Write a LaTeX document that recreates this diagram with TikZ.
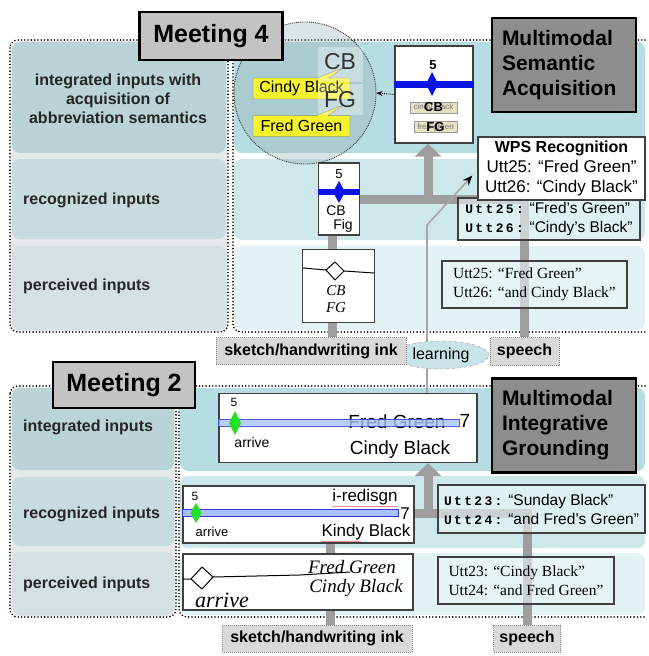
\documentclass[tikz,border=0pt]{standalone}
\usepackage{fontspec}
\setmainfont{Liberation Sans}
\newfontfamily\timesfont{Liberation Serif}
\newfontfamily\courfont[LetterSpace=18]{Liberation Mono}
\usetikzlibrary{shapes,shapes.callouts,arrows.meta,positioning,calc}

\definecolor{rowA}{HTML}{B5DDE2}
\definecolor{rowB}{HTML}{CCE8EB}
\definecolor{rowC}{HTML}{E3F3F5}
\definecolor{colA}{HTML}{BAD3D6}
\definecolor{colB}{HTML}{C8DBDE}
\definecolor{colC}{HTML}{D5E0E2}
\definecolor{colGap}{HTML}{E6E9E9}
\definecolor{flowgray}{HTML}{9E9E9E}
\definecolor{inkblue}{HTML}{0A14E6}
\definecolor{lineblue}{HTML}{A9C2F7}
\definecolor{edgeblue}{HTML}{3038D0}
\definecolor{tagkhaki}{HTML}{E6E3C3}
\definecolor{calloutyellow}{HTML}{F4F22C}
\definecolor{arrivegreen}{HTML}{22E022}
\definecolor{titlegray}{HTML}{C3C3C3}
\definecolor{titledark}{HTML}{8E8E8E}
\definecolor{inkgray}{HTML}{D9D9D9}
\definecolor{uttfill}{HTML}{EAF6F7}
\definecolor{learnteal}{HTML}{C9E4E8}
\definecolor{zoomfill}{RGB}{150,175,180}

\newcommand{\fsz}[2]{\fontsize{#1}{#2}\selectfont}
\newcommand{\utt}[1]{{\courfont\bfseries\fsz{13}{19}#1}}

\pgfdeclarelayer{panel}
\pgfdeclarelayer{flow}
\pgfsetlayers{panel,flow,main}

\begin{document}
\begin{tikzpicture}[
    x=1pt, y=-1pt,
    rowlabel/.style={anchor=west, inner sep=0pt, text=black!85, font=\bfseries\fsz{16}{19}},
    frame/.style={line width=1.8pt, line cap=round, dash pattern=on 0pt off 3.3pt},
    meeting/.style={draw, line width=2.4pt, fill=titlegray, inner sep=0pt, font=\bfseries\fsz{25}{30}},
    mmtitle/.style={draw, line width=2.4pt, fill=titledark, inner sep=0pt, align=left,
      text width=124pt, minimum width=144pt, font=\bfseries\fsz{21}{25}},
    whitebox/.style={draw=black!75, line width=1.2pt, fill=white, inner sep=0pt},
    uttbox/.style={draw=black!75, line width=1.2pt, fill=uttfill, fill opacity=0.6, text opacity=1,
      align=left, inner sep=2pt, font=\fsz{15.5}{19}},
    perbox/.style={uttbox, font=\timesfont\fsz{15.5}{18.5}},
    wpsbox/.style={draw=black!75, line width=1.2pt, fill=white, align=center, inner sep=1pt,
      font=\fsz{17}{20}},
    inkbox/.style={draw=black!45, dash pattern=on 1pt off 1pt, fill=inkgray, inner sep=0pt,
      font=\bfseries\fsz{16}{19}},
    flow/.style={draw=flowgray, line width=9pt},
    learnline/.style={draw=gray!70, line width=1.6pt},
    callbox/.style={rectangle callout, draw=black!60, fill=calloutyellow, inner sep=0pt,
      minimum width=97pt, minimum height=21pt, callout pointer width=12pt, font=\fsz{16}{19}},
    tag/.style={draw=black!40, fill=tagkhaki, text=black!55, inner sep=0.5pt,
      minimum height=11pt, font=\fsz{8}{9}},
    inkstroke/.style={line width=1pt, line cap=round, line join=round},
    handtext/.style={inner sep=0pt, font=\timesfont\itshape\fsz{19}{20}},
    digit/.style={inner sep=0pt, font=\fsz{13}{15}},
    wordsmall/.style={inner sep=0pt, font=\fsz{17}{19}},
    wordbig/.style={inner sep=0pt, font=\fsz{19}{21}},
  ]
  \useasboundingbox (0,0) rectangle (648,656);

  % panel backgrounds
  \begin{pgfonlayer}{panel}
    \fill[colGap, rounded corners=8] (11,41) rectangle (227,331);
    \fill[colA, rounded corners=8] (12,42) rectangle (226,153);
    \fill[colB, rounded corners=8] (12,159) rectangle (226,239);
    \fill[colC, rounded corners=8] (12,246) rectangle (226,330);
    \fill[rowA, rounded corners=8] (234,42) rectangle (645,153);
    \fill[rowB, rounded corners=8] (234,159) rectangle (645,240);
    \fill[rowC, rounded corners=8] (234,246) rectangle (645,330);
    \draw[frame, rounded corners=8] (10,40) rectangle (228,332);
    \draw[frame, rounded corners=8] (645,40) -- (233,40) -- (233,332) -- (645,332);

    \fill[colGap, rounded corners=8] (11,387) rectangle (175,616);
    \fill[colA, rounded corners=8] (12,388) rectangle (174,470);
    \fill[colB, rounded corners=8] (12,477) rectangle (174,546);
    \fill[colC, rounded corners=8] (12,552) rectangle (174,615);
    \fill[rowA, rounded corners=8] (180,388) rectangle (645,471);
    \fill[rowB, rounded corners=8] (180,476) rectangle (645,548);
    \fill[rowC, rounded corners=8] (180,553) rectangle (645,615);
    \draw[frame, rounded corners=8] (10,386) rectangle (176,617);
    \draw[frame, rounded corners=8] (645,386) -- (179,386) -- (179,617) -- (645,617);
  \end{pgfonlayer}

  % row labels
  \node[rowlabel, anchor=center, align=center, font=\bfseries\fsz{16}{19}] (lblInt4) at (118,99)
    {integrated inputs with\\acquisition of\\abbreviation semantics};
  \node[rowlabel] (lblRec4) at (23,200) {recognized inputs};
  \node[rowlabel] (lblPer4) at (23,286) {perceived inputs};
  \node[rowlabel] (lblInt2) at (23,427) {integrated inputs};
  \node[rowlabel] (lblRec2) at (23,514) {recognized inputs};
  \node[rowlabel] (lblPer2) at (23,584) {perceived inputs};

  % Meeting 4: zoomed abbreviation semantics
  \node[circle, draw=black!80, densely dotted, line width=0.9pt, fill=zoomfill, fill opacity=0.35,
    minimum size=142pt] (zoomc) at (305,93) {};
  \node[callbox, callout absolute pointer={(343,68)}] (cindy) at (301.5,88.5) {Cindy Black};
  \node[callbox, callout absolute pointer={(343,105)}] (fred) at (301.5,126) {Fred Green};
  \fill[white, opacity=0.35] (318,47) rectangle (363,82);
  \fill[white, opacity=0.35] (318,84) rectangle (363,115);
  \node[inner sep=0pt, text=black!80, font=\fsz{23}{25}] (cbAbbr) at (340,62) {CB};
  \node[inner sep=0pt, text=black!80, font=\fsz{23}{25}] (fgAbbr) at (340,100) {FG};

  % Meeting 4: acquired semantics
  \node[whitebox, minimum width=78pt, minimum height=97pt] (semres) at (434,94.5) {};
  \node[digit, font=\bfseries\fsz{13}{15}] (five4a) at (433,65) {5};
  \draw[inkblue, line width=7pt] (semres.west |- 0,84) -- (semres.east |- 0,84);
  \fill[inkblue] (432,72) -- (438,84) -- (432,96) -- (426,84) -- cycle;
  \node[tag, minimum width=47pt] (cbtag) at (433.5,107.5) {cindy black};
  \node[inner sep=0pt, font=\bfseries\fsz{13}{14}] at (cbtag) {CB};
  \node[tag, minimum width=43pt] (fgtag) at (435.5,127) {fred green};
  \node[inner sep=0pt, font=\bfseries\fsz{13}{14}] at (fgtag) {FG};
  \draw[densely dotted, line width=0.9pt, -{Stealth[length=6pt,width=5pt]}] (semres.west) -- (zoomc.east);

  % Meeting 4: recognized and perceived inputs
  \node[whitebox, minimum width=41pt, minimum height=72pt] (cbfig) at (339,199) {};
  \node[digit] at (339,174) {5};
  \draw[inkblue, line width=6pt] (cbfig.west |- 0,192) -- (cbfig.east |- 0,192);
  \fill[inkblue] (339,181) -- (345,192) -- (339,203) -- (333,192) -- cycle;
  \node[inner sep=0pt, font=\fsz{14}{16}] at (336,211) {CB};
  \node[inner sep=0pt, font=\fsz{14}{16}] at (343,226) {Fig};

  \node[whitebox, minimum width=72pt, minimum height=73pt] (ske4) at (338.5,286) {};
  \draw[inkstroke] (303,268) -- (326,270) (344,271) -- (374,273);
  \draw[inkstroke] (326,270) -- (335,262) -- (344,271) -- (335,280) -- cycle;
  \node[handtext, font=\timesfont\itshape\fsz{15}{16}] at (336,291) {CB};
  \node[handtext, font=\timesfont\itshape\fsz{15}{16}] at (336,308) {FG};

  \node[uttbox, minimum width=182pt, minimum height=42pt] (rec4s) at (549,219)
    {\utt{Utt25:} “Fred's Green”\\\utt{Utt26:} “Cindy's Black”};
  \node[wpsbox, minimum width=167pt, minimum height=63pt] (wps) at (561.5,168.5)
    {{\bfseries\fsz{16}{20}WPS Recognition}\\Utt25: “Fred Green”\\Utt26: “Cindy Black”};
  \node[perbox, minimum width=185pt, minimum height=47pt] (per4s) at (534.5,284.5)
    {Utt25: “Fred Green”\\Utt26: “and Cindy Black”};

  \node[ellipse, draw=gray!80, dashed, fill=learnteal, minimum width=96pt, minimum height=28pt,
    inner sep=0pt, font=\fsz{16}{19}] (learn) at (441,355) {learning};
  \node[inkbox, minimum width=190pt, minimum height=27pt] (ink4) at (311,351) {sketch/handwriting ink};
  \node[inkbox, minimum width=69pt, minimum height=28pt] (sp4) at (524.5,351.5) {speech};

  % Meeting 2: integrated inputs
  \node[whitebox, minimum width=258pt, minimum height=69pt] (int2) at (348,428) {};
  \node[digit, font=\fsz{12}{14}] at (234,402) {5};
  \node[wordbig] (fredInt) at (397,422) {Fred Green};
  \node[wordbig] at (465,421) {7};
  \filldraw[fill=lineblue, draw=edgeblue, line width=1pt, opacity=0.8] (int2.west |- 0,419) rectangle (459,426);
  \fill[arrivegreen] (235,411) -- (241,423) -- (235,435) -- (229,423) -- cycle;
  \node[inner sep=0pt, font=\fsz{14}{16}] at (252,442) {arrive};
  \node[wordbig] at (400,450) {Cindy Black};

  % Meeting 2: recognized inputs
  \node[whitebox, minimum width=231pt, minimum height=57pt] (rec2) at (298.5,514.5) {};
  \node[digit, font=\fsz{12}{14}] at (195,496) {5};
  \filldraw[fill=lineblue, draw=edgeblue, line width=1pt] (rec2.west |- 0,509) rectangle (398,516);
  \node[wordsmall] at (405,514) {7};
  \fill[arrivegreen] (196,503) -- (201.5,513) -- (196,523) -- (190.5,513) -- cycle;
  \node[inner sep=0pt, font=\fsz{13}{15}] at (212,532) {arrive};
  \node[wordsmall] (redis) at (365,497) {i-redisgn};
  \node[wordsmall] (kindy) at (366,532) {Kindy Black};
  \draw[red!45, line width=0.6pt] ([yshift=-1pt]redis.south west) -- ([yshift=-1pt]redis.south east);
  \draw[red!45, line width=0.6pt] ([yshift=-1pt]kindy.south west) -- ++(40,0);

  \node[uttbox, minimum width=207pt, minimum height=48pt] (rec2s) at (541.5,509)
    {\utt{Utt23:} “Sunday Black”\\\utt{Utt24:} “and Fred's Green”};

  % Meeting 2: perceived inputs
  \node[whitebox, minimum width=230pt, minimum height=56pt] (ske2) at (298,582) {};
  \draw[inkstroke] (183,579) -- (191,579) (213,577) -- (300,575) -- (350,572);
  \draw[inkstroke] (191,579) -- (202,567) -- (213,577) -- (202,589) -- cycle;
  \node[handtext, font=\timesfont\itshape\fsz{22}{24}] at (222,600) {arrive};
  \node[handtext] at (352,567) {Fred Green};
  \node[handtext] at (356,588) {Cindy Black};

  \node[perbox, minimum width=176pt, minimum height=47pt] (per2s) at (526,580.5)
    {Utt23: “Cindy Black”\\Utt24: “and Fred Green”};

  \node[inkbox, minimum width=190pt, minimum height=27pt] (ink2) at (317,638.5) {sketch/handwriting ink};
  \node[inkbox, minimum width=67pt, minimum height=27pt] (sp2) at (527,638.5) {speech};

  % gray flows between the inputs
  \begin{pgfonlayer}{flow}
    \draw[flow] (cbfig.south -| 332,0) -- (ske4.north -| 332,0);
    \draw[flow] (ske4.south -| 332,0) -- (ink4.north -| 332,0);
    \draw[flow] (cbfig.east |- 0,199) -- (524.5,199) -- (sp4.north);
    \draw[flow, -{Triangle[width=26pt,length=13pt]}] (428,203) -- (semres.south -| 428,0);

    \draw[flow] (rec2.south -| 330,0) -- (ske2.north -| 330,0);
    \draw[flow] (ske2.south -| 330,0) -- (ink2.north -| 330,0);
    \draw[flow] (rec2.east |- 0,513) -- (527,513) -- (sp2.north);
    \draw[flow, -{Triangle[width=26pt,length=13pt]}] (428,517) -- (int2.south -| 428,0);

    % learning
    \coordinate (learnTip) at ($(wps.west)+(-5,7)$);
    \draw[learnline, -{Stealth[black,length=10pt,width=8pt]}] (int2.north -| 427,0) -- (427,225) -- (learnTip);
  \end{pgfonlayer}

  % titles
  \node[meeting, minimum width=143pt, minimum height=48pt] (meet4) at (211,36) {Meeting 4};
  \node[mmtitle, minimum height=94pt] (msa) at (564,65) {Multimodal\\Semantic\\Acquisition};
  \node[meeting, minimum width=142pt, minimum height=46pt] (meet2) at (124,385) {Meeting 2};
  \node[mmtitle, minimum height=94pt] (mig) at (564,425.5) {Multimodal\\Integrative\\Grounding};
\end{tikzpicture}
\end{document}
